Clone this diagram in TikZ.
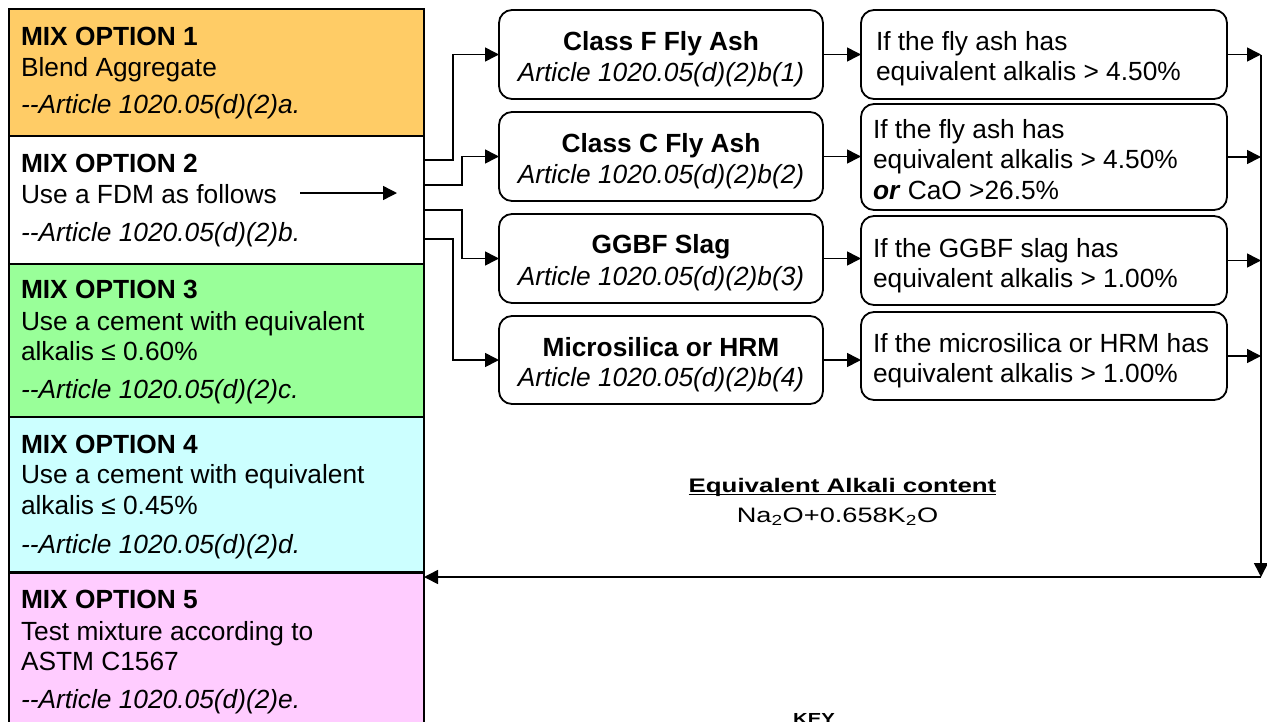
\documentclass[tikz,border=0pt]{standalone}
\usepackage{fontspec}
\setmainfont{Liberation Sans}
\usetikzlibrary{arrows.meta}
\definecolor{opta}{RGB}{255,204,102}
\definecolor{optc}{RGB}{153,255,153}
\definecolor{optd}{RGB}{204,255,255}
\definecolor{opte}{RGB}{255,204,255}
\begin{document}
\begin{tikzpicture}[x=1pt,y=-1pt,
  every node/.style={inner sep=0pt, outer sep=0pt},
  txt/.style={anchor=base west, font=\fontsize{26.3}{30}\selectfont},
  ctxt/.style={anchor=base, font=\fontsize{26.3}{30}\selectfont},
  optbox/.style={draw, line width=1.8pt, anchor=north west, minimum width=415},
  midbox/.style={draw, line width=1.8pt, rounded corners=13pt, anchor=north west, minimum width=324},
  resbox/.style={draw, line width=1.8pt, rounded corners=13pt, anchor=north west, minimum width=366},
  conn/.style={line width=1.6pt, -{Triangle[length=14pt,width=14pt]}}
]
\useasboundingbox (0,0) rectangle (1267,721);

% left option boxes
\node[optbox, fill=opta, minimum height=127] (o1) at (9,9) {};
\node[optbox, fill=white, minimum height=128] (o2) at (9,136) {};
\node[optbox, fill=optc, minimum height=153] (o3) at (9,264) {};
\node[optbox, fill=optd, minimum height=155] (o4) at (9,417) {};
\node[optbox, fill=opte, minimum height=190] (o5) at (9,573) {};

\node[txt] (t1a) at (21,45) {\textbf{MIX OPTION 1}};
\node[txt] (t1b) at (21,76) {Blend Aggregate};
\node[txt] (t1c) at (21,113) {\textit{-{}-Article 1020.05(d)(2)a.}};

\node[txt] (t2a) at (21,172) {\textbf{MIX OPTION 2}};
\node[txt] (t2b) at (21,203) {Use a FDM as follows};
\node[txt] (t2c) at (21,241) {\textit{-{}-Article 1020.05(d)(2)b.}};

\node[txt] (t3a) at (21,298) {\textbf{MIX OPTION 3}};
\node[txt] (t3b) at (21,330) {Use a cement with equivalent};
\node[txt] (t3c) at (21,360) {alkalis ≤ 0.60\%};
\node[txt] (t3d) at (21,398) {\textit{-{}-Article 1020.05(d)(2)c.}};

\node[txt] (t4a) at (21,453) {\textbf{MIX OPTION 4}};
\node[txt] (t4b) at (21,483) {Use a cement with equivalent};
\node[txt] (t4c) at (21,514) {alkalis ≤ 0.45\%};
\node[txt] (t4d) at (21,553) {\textit{-{}-Article 1020.05(d)(2)d.}};

\node[txt] (t5a) at (21,608) {\textbf{MIX OPTION 5}};
\node[txt] (t5b) at (21,640) {Test mixture according to};
\node[txt] (t5c) at (21,670) {ASTM C1567};
\node[txt] (t5d) at (21,708) {\textit{-{}-Article 1020.05(d)(2)e.}};

\coordinate (fdmA) at (300,193);
\coordinate (fdmB) at (397,193);
\draw[conn, line width=1.4pt] (fdmA) -- (fdmB);

% middle boxes
\node[midbox, minimum height=89] (f) at (499,10) {};
\node[midbox, minimum height=89] (c) at (499,112) {};
\node[midbox, minimum height=89] (g) at (499,214) {};
\node[midbox, minimum height=88] (m) at (499,316) {};

\node[ctxt] (fa) at (661,50) {\textbf{Class F Fly Ash}};
\node[ctxt] (fb) at (661,81) {\textit{Article 1020.05(d)(2)b(1)}};
\node[ctxt] (ca) at (661,152) {\textbf{Class C Fly Ash}};
\node[ctxt] (cb) at (661,183) {\textit{Article 1020.05(d)(2)b(2)}};
\node[ctxt] (ga) at (661,253) {\textbf{GGBF Slag}};
\node[ctxt] (gb) at (661,285) {\textit{Article 1020.05(d)(2)b(3)}};
\node[ctxt] (ma) at (661,356) {\textbf{Microsilica or HRM}};
\node[ctxt] (mb) at (661,386) {\textit{Article 1020.05(d)(2)b(4)}};

% right boxes
\node[resbox, minimum height=89] (r1) at (861,10) {};
\node[resbox, minimum height=106] (r2) at (861,104) {};
\node[resbox, minimum height=89] (r3) at (861,216) {};
\node[resbox, minimum height=88] (r4) at (861,312) {};

\node[txt] (r1a) at (876,50) {If the fly ash has};
\node[txt] (r1b) at (876,80) {equivalent alkalis > 4.50\%};
\node[txt] (r2a) at (873,138) {If the fly ash has};
\node[txt] (r2b) at (873,168) {equivalent alkalis > 4.50\%};
\node[txt] (r2c) at (873,199) {\textbf{\textit{or}} CaO >26.5\%};
\node[txt] (r3a) at (873,257) {If the GGBF slag has};
\node[txt] (r3b) at (873,287) {equivalent alkalis > 1.00\%};
\node[txt] (r4a) at (873,352) {If the microsilica or HRM has};
\node[txt] (r4b) at (873,382) {equivalent alkalis > 1.00\%};

% connectors from option 2
\draw[conn] ([yshift=-24pt]o2.north east) -- ++(29,0) |- (f.west);
\draw[conn] ([yshift=-49pt]o2.north east) -- ++(38,0) |- (c.west);
\draw[conn] ([yshift=-74pt]o2.north east) -- ++(38,0) |- (g.west);
\draw[conn] ([yshift=-103pt]o2.north east) -- ++(29,0) |- (m.west);

% middle -> right
\draw[conn] (f.east) -- (f.east -| r1.west);
\draw[conn] (c.east) -- (c.east -| r2.west);
\draw[conn] (g.east) -- (g.east -| r3.west);
\draw[conn] (m.east) -- (m.east -| r4.west);

% right -> bus
\coordinate (busB) at (1261,577);
\draw[conn] (r1.east) -- (r1.east -| busB);
\draw[conn] (r2.east) -- (r2.east -| busB);
\draw[conn] (r3.east) -- (r3.east -| busB);
\draw[conn] (r4.east) -- (r4.east -| busB);
\draw[conn] (r1.east -| busB) -- (busB);
\draw[conn] (busB) -- (busB -| o5.east);

% equivalent alkali note
\node[anchor=base, font=\bfseries\fontsize{19.6}{22}\selectfont] (eq) at (842.5,492)
  {\scalebox{1.32}[1]{Equivalent Alkali content}};
\draw[line width=1.8pt] ([yshift=-2.5pt]eq.base west) -- ([yshift=-2.5pt]eq.base east);
\node[anchor=base, font=\fontsize{20.9}{24}\selectfont] (eqf) at (837.5,522)
  {\scalebox{1.3}[1]{Na\textsubscript{2}O+0.658K\textsubscript{2}O}};

\node[anchor=base, font=\bfseries\fontsize{16}{18}\selectfont] (key) at (814,724)
  {\scalebox{1.27}[1]{KEY}};
\end{tikzpicture}
\end{document}
